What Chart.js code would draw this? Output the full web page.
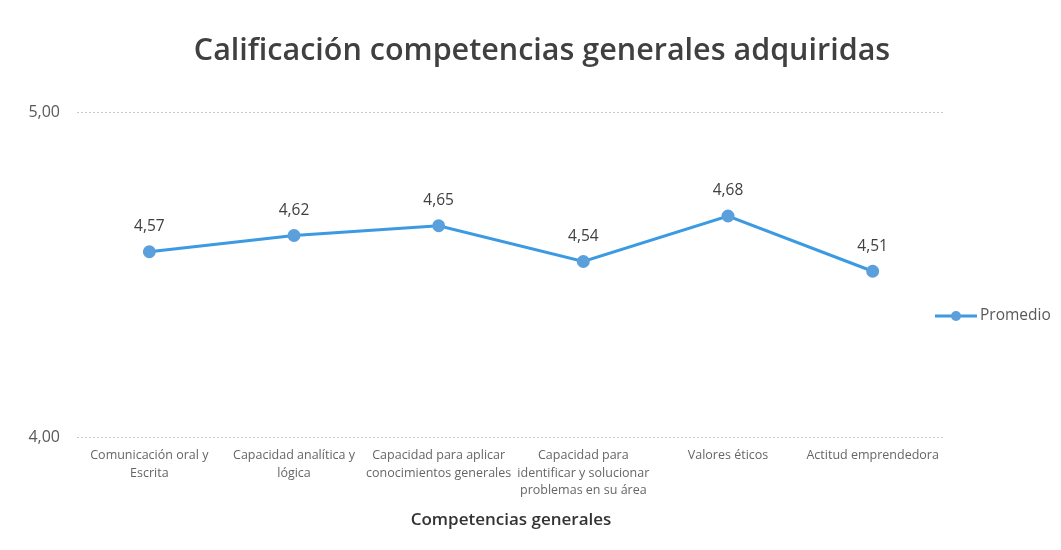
<!DOCTYPE html>
<html>
<head>
<meta charset="utf-8">
<script src="https://cdn.jsdelivr.net/npm/chart.js@4"></script>
<style>
  html, body { margin: 0; padding: 0; background: #fff; }
  #wrap { width: 1061px; height: 550px; position: relative; }
</style>
</head>
<body>
<div id="wrap"><canvas id="chart" width="1061" height="550"></canvas></div>
<script>
// categories, series and ticks
const categories = [
  ['Comunicación oral y', 'Escrita'],
  ['Capacidad analítica y', 'lógica'],
  ['Capacidad para aplicar', 'conocimientos generales'],
  ['Capacidad para', 'identificar y solucionar', 'problemas en su área'],
  ['Valores éticos'],
  ['Actitud emprendedora']
];
const promedio = [4.57, 4.62, 4.65, 4.54, 4.68, 4.51];
const yTicks = [4, 5];
const seriesName = 'Promedio';
const chartTitle = 'Calificación competencias generales adquiridas';
const xTitle = 'Competencias generales';

const fmt = v => v.toFixed(2).replace('.', ',');
const FONT = "'Open Sans', 'Noto Sans', sans-serif";
const LINE = '#3b9ae2';
const MARK = '#5b9fdc';

// data labels above each point + title + legend on the right
const extras = {
  id: 'extras',
  afterDatasetsDraw(chart) {
    const ctx = chart.ctx;
    const meta = chart.getDatasetMeta(0);
    ctx.save();
    ctx.font = '15.5px ' + FONT;
    ctx.fillStyle = '#404040';
    ctx.textAlign = 'center';
    ctx.textBaseline = 'middle';
    meta.data.forEach((pt, i) => {
      ctx.fillText(fmt(promedio[i]), pt.x, pt.y - 25);
    });
    ctx.restore();
  },
  afterDraw(chart) {
    const ctx = chart.ctx;
    ctx.save();
    // title
    ctx.font = '600 30.5px ' + FONT;
    ctx.fillStyle = '#404040';
    ctx.textAlign = 'center';
    ctx.textBaseline = 'middle';
    ctx.fillText(chartTitle, 542, 51);
    // legend
    const ly = 316;
    ctx.strokeStyle = LINE;
    ctx.lineWidth = 3;
    ctx.beginPath();
    ctx.moveTo(935, ly);
    ctx.lineTo(977, ly);
    ctx.stroke();
    ctx.fillStyle = MARK;
    ctx.beginPath();
    ctx.arc(956, ly, 5, 0, Math.PI * 2);
    ctx.fill();
    ctx.font = '15.5px ' + FONT;
    ctx.fillStyle = '#595959';
    ctx.textAlign = 'left';
    ctx.fillText(seriesName, 980, ly);
    ctx.restore();
  }
};

new Chart(document.getElementById('chart').getContext('2d'), {
  type: 'line',
  data: {
    labels: categories,
    datasets: [{
      label: seriesName,
      data: promedio,
      borderColor: LINE,
      backgroundColor: MARK,
      pointBackgroundColor: MARK,
      pointBorderColor: MARK,
      borderWidth: 3,
      pointRadius: 5,
      tension: 0,
      fill: false
    }]
  },
  options: {
    responsive: false,
    animation: false,
    layout: { padding: { top: 112, right: 116, left: 0, bottom: 0 } },
    plugins: {
      legend: { display: false },
      title: { display: false },
      tooltip: { enabled: false }
    },
    scales: {
      x: {
        offset: true,
        grid: { display: false, drawTicks: false },
        border: { display: false },
        ticks: {
          maxRotation: 0,
          autoSkip: false,
          padding: 10,
          color: '#666',
          font: { family: FONT, size: 12.5, lineHeight: 1.4 }
        },
        title: {
          display: true,
          text: xTitle,
          color: '#333',
          font: { family: FONT, size: 17, weight: '600' },
          padding: { top: 4, bottom: 20 }
        },
        afterFit(scale) { scale.height = 113; }
      },
      y: {
        min: 4,
        max: 5,
        afterBuildTicks(scale) { scale.ticks = yTicks.map(v => ({ value: v })); },
        grid: {
          color: '#c8c8c8',
          lineWidth: 1,
          drawTicks: false
        },
        border: { display: false, dash: [2, 2] },
        ticks: {
          padding: 17,
          color: '#595959',
          font: { family: FONT, size: 16 },
          callback: v => fmt(v)
        },
        afterFit(scale) { scale.width = 77; }
      }
    }
  },
  plugins: [extras]
});
</script>
</body>
</html>
